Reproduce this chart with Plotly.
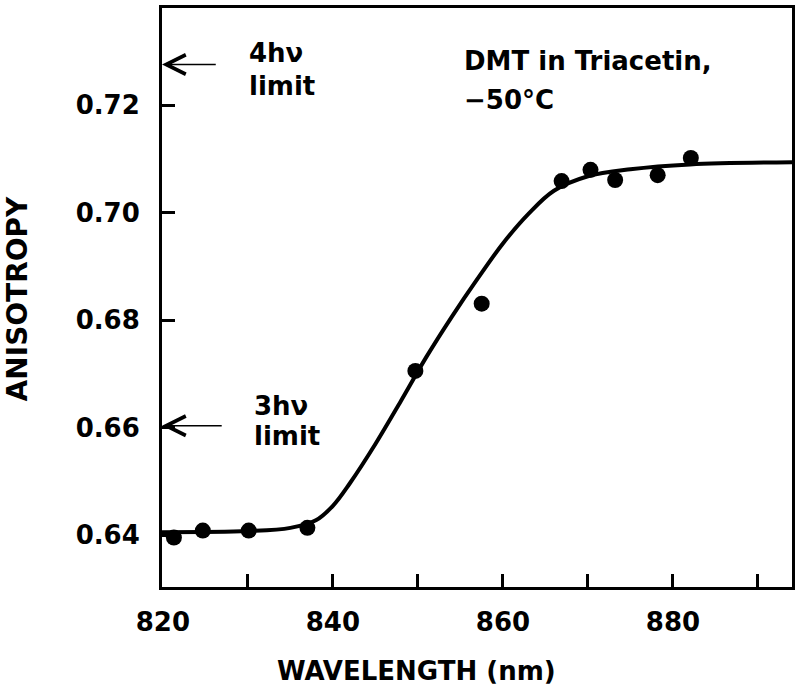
import plotly.graph_objects as go

# measured points
wavelength_nm = [821.3, 824.7, 830.1, 837.0, 849.7, 857.5, 866.9, 870.3, 873.2, 878.2, 882.1]
anisotropy = [0.6396, 0.6409, 0.6409, 0.6414, 0.6706, 0.6831, 0.7059, 0.7080, 0.7061, 0.7070, 0.7102]

# fitted curve
fit_wavelength_nm = [819.9, 830, 835, 838, 840, 842, 845, 848, 851, 854, 857, 860, 863, 866, 870, 875, 882, 894]
fit_anisotropy = [0.6406, 0.6408, 0.6414, 0.6428, 0.6455, 0.6497, 0.6570, 0.6650, 0.6732, 0.6807, 0.6877,
                  0.6943, 0.6998, 0.7041, 0.7068, 0.7081, 0.7090, 0.7094]

x_tick_vals = [820, 830, 840, 850, 860, 870, 880, 890]
x_tick_text = ["820", "", "840", "", "860", "", "880", ""]
y_tick_vals = [0.64, 0.66, 0.68, 0.70, 0.72]
y_tick_text = ["0.64", "0.66", "0.68", "0.70", "0.72"]

limit_labels = ["4hν", "3hν"]
limit_values = [0.7276, 0.6604]

FONT = "DejaVu Sans"
FS = 26
WT = "bold"


def tfont(size=FS):
    return dict(family=FONT, size=size, color="black", weight=WT)


fig = go.Figure()
fig.add_trace(go.Scatter(x=fit_wavelength_nm, y=fit_anisotropy, mode="lines",
                         line=dict(color="black", width=4, shape="spline", smoothing=1.0),
                         hoverinfo="skip", showlegend=False))
fig.add_trace(go.Scatter(x=wavelength_nm, y=anisotropy, mode="markers",
                         marker=dict(color="black", size=16), showlegend=False))

axis_common = dict(showline=True, linecolor="black", linewidth=3, mirror=True,
                   ticks="inside", ticklen=13, tickwidth=2.5, tickcolor="black",
                   showgrid=False, zeroline=False, tickfont=tfont())

fig.update_xaxes(range=[819.9, 894], tickmode="array", tickvals=x_tick_vals, ticktext=x_tick_text,
                 ticklabelstandoff=10, **axis_common)
fig.update_yaxes(range=[0.6304, 0.7381], tickmode="array", tickvals=y_tick_vals, ticktext=y_tick_text,
                 ticklabelstandoff=14, **axis_common)

ann = []
# limit arrows
for val, tail in zip(limit_values, [826.4, 827.1]):
    ann.append(dict(x=819.9, y=val, ax=tail, ay=val, xref="x", yref="y", axref="x", ayref="y",
                    text="", showarrow=True, arrowhead=5, arrowsize=2.4, arrowwidth=1.6,
                    arrowcolor="black"))
# limit texts
ann.append(dict(x=829.9, y=0.7298, xref="x", yref="y", text=limit_labels[0], showarrow=False,
                xanchor="left", yanchor="middle", font=tfont()))
ann.append(dict(x=829.9, y=0.7235, xref="x", yref="y", text="limit", showarrow=False,
                xanchor="left", yanchor="middle", font=tfont()))
ann.append(dict(x=830.5, y=0.6641, xref="x", yref="y", text=limit_labels[1], showarrow=False,
                xanchor="left", yanchor="middle", font=tfont()))
ann.append(dict(x=830.5, y=0.6585, xref="x", yref="y", text="limit", showarrow=False,
                xanchor="left", yanchor="middle", font=tfont()))
# sample label
ann.append(dict(x=855.2, y=0.7282, xref="x", yref="y", text="DMT in Triacetin,", showarrow=False,
                xanchor="left", yanchor="middle", font=tfont()))
ann.append(dict(x=855.2, y=0.7209, xref="x", yref="y", text="−50°C", showarrow=False,
                xanchor="left", yanchor="middle", font=tfont()))
# axis titles
ann.append(dict(x=0.4044, y=-0.1443, xref="paper", yref="paper", text="WAVELENGTH (nm)", showarrow=False,
                xanchor="center", yanchor="middle", font=tfont()))
ann.append(dict(x=-0.229, y=0.498, xref="paper", yref="paper", text="ANISOTROPY", showarrow=False,
                textangle=-90, xanchor="center", yanchor="middle", font=tfont(28)))

fig.update_layout(width=800, height=687, margin=dict(l=162, r=5, t=5, b=100),
                  plot_bgcolor="white", paper_bgcolor="white", annotations=ann)

fig.write_html("out.html", config={"displayModeBar": False},
               post_script="document.body.style.margin='0';document.body.style.padding='0';")
